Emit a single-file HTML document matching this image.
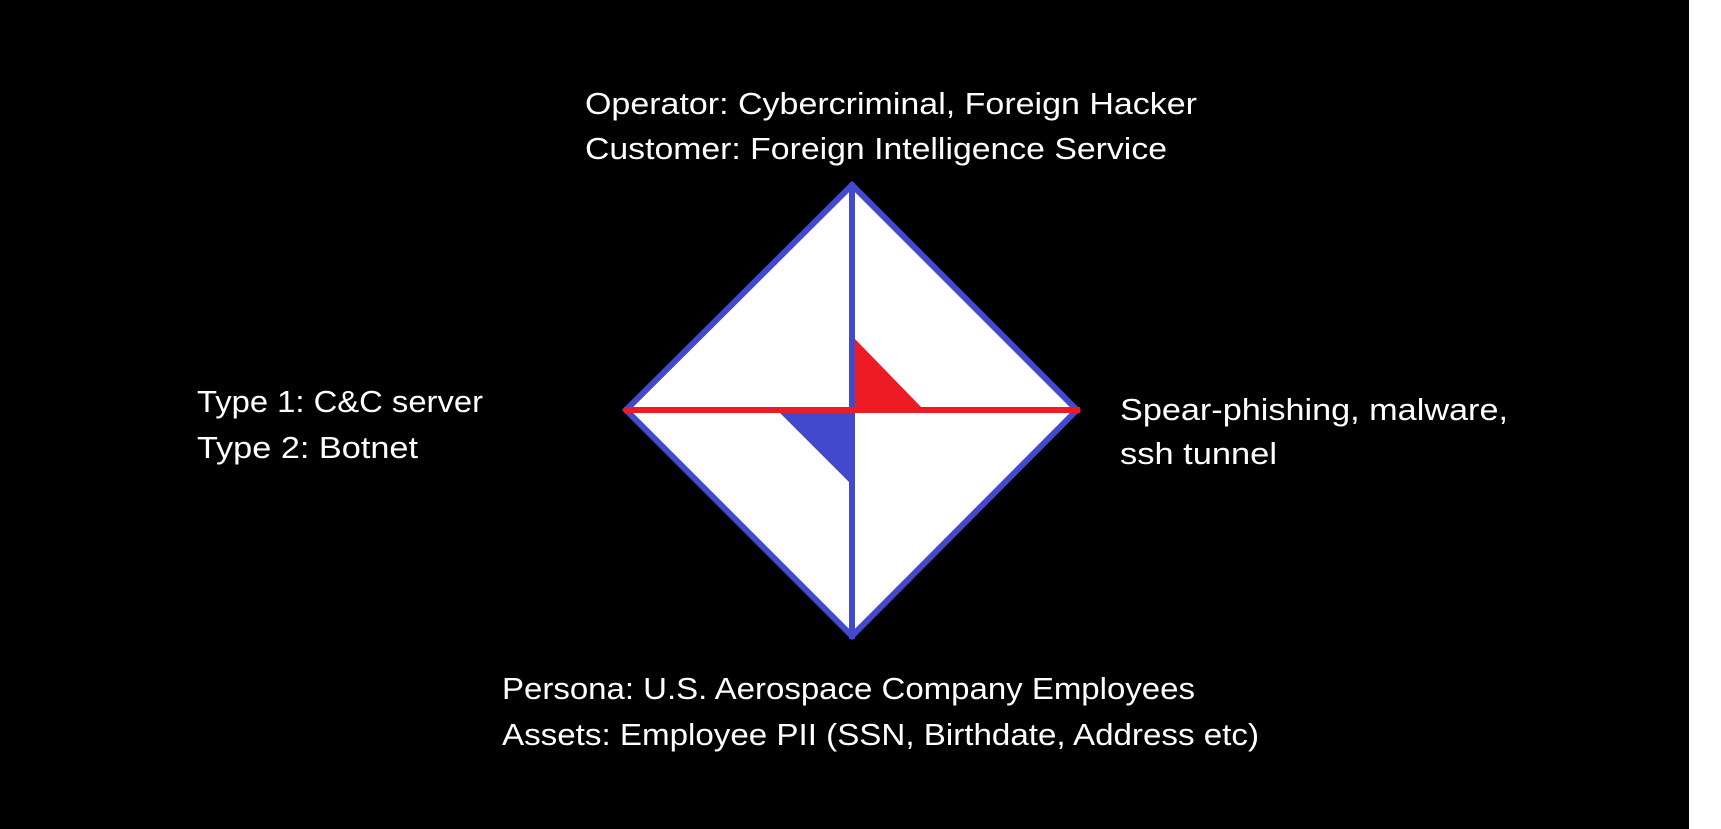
<!DOCTYPE html>
<html><head><meta charset="utf-8"><style>
html,body{margin:0;padding:0;background:#fff;}
svg{display:block;}
text{font-family:"Liberation Sans","DejaVu Sans",sans-serif;font-size:31px;fill:#fff;}
</style></head><body>
<svg width="1721" height="829" viewBox="0 0 1721 829">
<rect x="0" y="0" width="1689" height="829" fill="#000"/>
<polygon points="852,185 1077,410 852,636 626,410" fill="#fff" stroke="#4249cd" stroke-width="6"/>
<polygon points="855,339 855,410 924,410" fill="#ed1c24"/>
<polygon points="780,413 849,413 849,482" fill="#4249cd"/>
<line x1="852" y1="183" x2="852" y2="639" stroke="#4249cd" stroke-width="6"/>
<line x1="624" y1="410" x2="1080" y2="410" stroke="#ed1c24" stroke-width="6"/>
<text x="585" y="114" textLength="612" lengthAdjust="spacingAndGlyphs">Operator: Cybercriminal, Foreign Hacker</text>
<text x="585" y="159" textLength="582" lengthAdjust="spacingAndGlyphs">Customer: Foreign Intelligence Service</text>
<text x="197" y="412" textLength="286" lengthAdjust="spacingAndGlyphs">Type 1: C&amp;C server</text>
<text x="197" y="458" textLength="221" lengthAdjust="spacingAndGlyphs">Type 2: Botnet</text>
<text x="1120" y="420" textLength="388" lengthAdjust="spacingAndGlyphs">Spear-phishing, malware,</text>
<text x="1120" y="464" textLength="157" lengthAdjust="spacingAndGlyphs">ssh tunnel</text>
<text x="502" y="699" textLength="693" lengthAdjust="spacingAndGlyphs">Persona: U.S. Aerospace Company Employees</text>
<text x="502" y="745" textLength="757" lengthAdjust="spacingAndGlyphs">Assets: Employee PII (SSN, Birthdate, Address etc)</text>
</svg>
</body></html>
